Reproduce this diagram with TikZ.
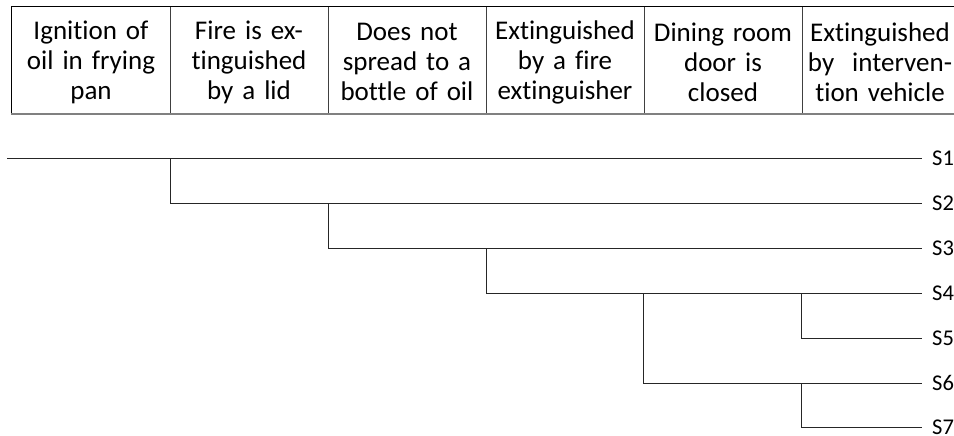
\documentclass[tikz,border=0pt]{standalone}
\usepackage{fontspec}
\setmainfont{Carlito}[Ligatures=NoCommon]
\begin{document}
\begin{tikzpicture}[x=1pt,y=-1pt,
  head/.style={text width=156pt,align=center,inner sep=0pt,
    font=\fontsize{27}{30}\selectfont},
  endlab/.style={anchor=west,inner xsep=10pt,inner ysep=0pt,
    font=\fontsize{22.5}{26}\selectfont},
  tree/.style={line width=1pt,black!85},
  grid/.style={line width=1pt,black!75}]
\useasboundingbox (0,0) rectangle (954,436);
% table frame
\draw[line width=1pt,black] (11,7) -- (954,7);
\draw[line width=1pt,black] (11,7) -- (11,114);
\draw[line width=2pt,black!50] (11,114) -- (954,114);
\foreach \x in {170,328,486,644,802} \draw[grid] (\x,7) -- (\x,113);
% headers
\node[head] (h1) at (91,62) {Ignition of\\oil in frying\\pan};
\node[head] (h2) at (249,62) {Fire is ex-\\tinguished\\by a lid};
\node[head] (h3) at (407,62) {Does not\\spread to a\\bottle of oil};
\node[head] (h4) at (565,62) {Extinguished\\by a fire\\extinguisher};
\node[head] (h5) at (723,62) {Dining room\\door is\\closed};
\node[head] (h6) at (880,62) {Extinguished\\by\ \ interven-\\tion vehicle};
% end labels
\node[endlab] (S1) at (922,158) {S1};
\node[endlab] (S2) at (922,203) {S2};
\node[endlab] (S3) at (922,248) {S3};
\node[endlab] (S4) at (922,293) {S4};
\node[endlab] (S5) at (922,338) {S5};
\node[endlab] (S6) at (922,383) {S6};
\node[endlab] (S7) at (922,427) {S7};
% branch points
\coordinate (start) at (7,158);
\coordinate (b2) at (170,158);
\coordinate (b3) at (328,203);
\coordinate (b4) at (486,248);
\coordinate (b5) at (801,293);
\coordinate (b6) at (643,293);
\coordinate (b7) at (801,383);
\draw[tree] (start) -- (S1.west);
\draw[tree] (b2) |- (S2.west);
\draw[tree] (b3) |- (S3.west);
\draw[tree] (b4) |- (S4.west);
\draw[tree] (b5) |- (S5.west);
\draw[tree] (b6) |- (S6.west);
\draw[tree] (b7) |- (S7.west);
\end{tikzpicture}
\end{document}
